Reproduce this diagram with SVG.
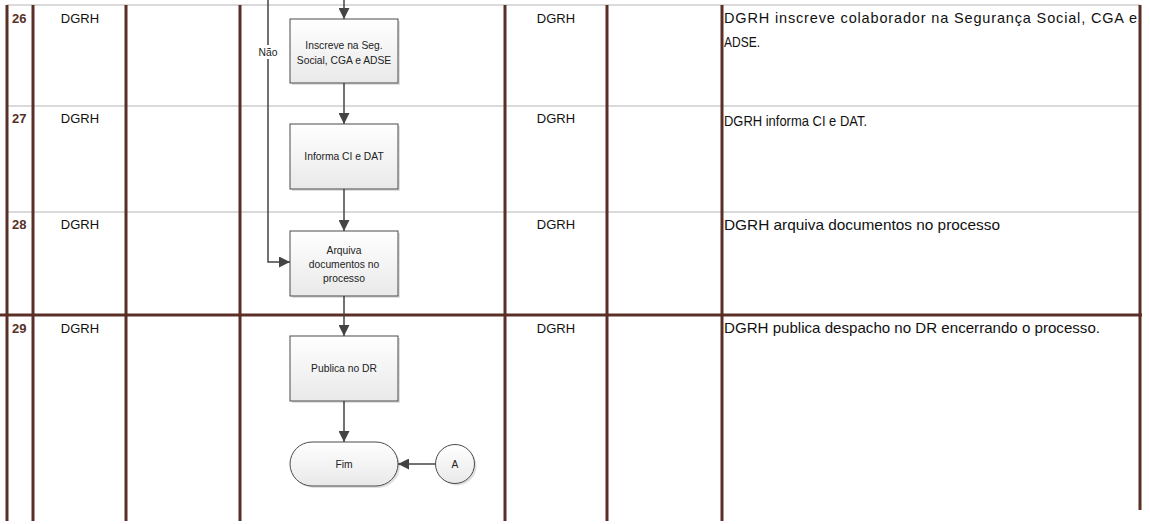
<svg xmlns="http://www.w3.org/2000/svg" width="1150" height="524" viewBox="0 0 1150 524">
  <style>
    .grid-light { stroke: #dadada; stroke-width: 2; }
    .grid-dark { stroke: #5a2f27; stroke-width: 3; }
    .num { font-family: "Liberation Sans", Arial, sans-serif; font-size: 13px; font-weight: bold; fill: #5a2f27; }
    .cell { font-family: "Liberation Sans", Arial, sans-serif; font-size: 13px; fill: #111; text-anchor: middle; }
    .desc { font-family: "Liberation Sans", Arial, sans-serif; font-size: 14.5px; fill: #111; }
    .box { fill: url(#boxFill); stroke: #4a4a4a; stroke-width: 1; }
    .shadow { fill: #000; opacity: 0.12; }
    .label { font-family: "Liberation Sans", Arial, sans-serif; font-size: 10.3px; fill: #222; text-anchor: middle; }
    .flow { fill: none; stroke: #444; stroke-width: 1.5; }
  </style>
  <defs>
    <linearGradient id="boxFill" x1="0" y1="0" x2="0" y2="1">
      <stop offset="0" stop-color="#ffffff"/>
      <stop offset="1" stop-color="#e9e9e9"/>
    </linearGradient>
    <marker id="arrow" markerUnits="userSpaceOnUse" markerWidth="11" markerHeight="11" refX="11" refY="5.5" orient="auto">
      <path d="M0,0 L11,5.5 L0,11 z" fill="#444"/>
    </marker>
  </defs>

  <rect width="1150" height="524" fill="#ffffff"/>

  <!-- table grid -->
  <g id="grid">
    <line class="grid-light" x1="7" y1="5" x2="1140" y2="5"/>
    <line class="grid-light" x1="7" y1="106" x2="1140" y2="106"/>
    <line class="grid-light" x1="7" y1="212" x2="1140" y2="212"/>
    <line class="grid-dark" x1="0" y1="315" x2="1142" y2="315"/>
    <line class="grid-dark" x1="7" y1="5" x2="7" y2="521"/>
    <line class="grid-dark" x1="33" y1="5" x2="33" y2="521"/>
    <line class="grid-dark" x1="126" y1="5" x2="126" y2="521"/>
    <line class="grid-dark" x1="240" y1="5" x2="240" y2="521"/>
    <line class="grid-dark" x1="505" y1="5" x2="505" y2="521"/>
    <line class="grid-dark" x1="607" y1="5" x2="607" y2="521"/>
    <line class="grid-dark" x1="722" y1="5" x2="722" y2="521"/>
    <line class="grid-dark" x1="1140" y1="5" x2="1140" y2="510"/>
  </g>

  <!-- row texts -->
  <g id="row-26">
    <text class="num" x="12" y="23">26</text>
    <text class="cell" x="80" y="23">DGRH</text>
    <text class="cell" x="556" y="23">DGRH</text>
    <text class="desc" x="724" y="23" textLength="413" lengthAdjust="spacing">DGRH inscreve colaborador na Segurança Social, CGA e</text>
    <text class="desc" x="724" y="47" textLength="36" lengthAdjust="spacingAndGlyphs">ADSE.</text>
  </g>
  <g id="row-27">
    <text class="num" x="12" y="123">27</text>
    <text class="cell" x="80" y="123">DGRH</text>
    <text class="cell" x="556" y="123">DGRH</text>
    <text class="desc" x="724" y="126" textLength="143" lengthAdjust="spacingAndGlyphs">DGRH informa CI e DAT.</text>
  </g>
  <g id="row-28">
    <text class="num" x="12" y="229">28</text>
    <text class="cell" x="80" y="229">DGRH</text>
    <text class="cell" x="556" y="229">DGRH</text>
    <text class="desc" x="724" y="230" textLength="276" lengthAdjust="spacingAndGlyphs">DGRH arquiva documentos no processo</text>
  </g>
  <g id="row-29">
    <text class="num" x="12" y="333">29</text>
    <text class="cell" x="80" y="333">DGRH</text>
    <text class="cell" x="556" y="333">DGRH</text>
    <text class="desc" x="724" y="333" textLength="376" lengthAdjust="spacingAndGlyphs">DGRH publica despacho no DR encerrando o processo.</text>
  </g>

  <!-- flow connectors -->
  <g id="connectors">
    <line class="flow" x1="344" y1="0" x2="344" y2="19" marker-end="url(#arrow)"/>
    <line class="flow" x1="344" y1="83" x2="344" y2="124" marker-end="url(#arrow)"/>
    <line class="flow" x1="344" y1="189" x2="344" y2="231" marker-end="url(#arrow)"/>
    <line class="flow" x1="344" y1="296" x2="344" y2="336" marker-end="url(#arrow)"/>
    <line class="flow" x1="344" y1="401" x2="344" y2="442" marker-end="url(#arrow)"/>
    <polyline class="flow" points="268,0 268,262 290,262" marker-end="url(#arrow)"/>
    <line class="flow" x1="435.5" y1="464" x2="398" y2="464" marker-end="url(#arrow)"/>
    <rect x="257" y="45" width="22" height="14" fill="#ffffff"/>
    <text class="label" x="268" y="56">Não</text>
  </g>

  <!-- process steps -->
  <g id="step-inscreve">
    <rect class="shadow" x="292" y="21" width="108" height="64"/>
    <rect class="box" x="290" y="19" width="108" height="64"/>
    <text class="label" x="344" y="49">Inscreve na Seg.</text>
    <text class="label" x="344" y="64">Social, CGA e ADSE</text>
  </g>
  <g id="step-informa">
    <rect class="shadow" x="292" y="126" width="108" height="65"/>
    <rect class="box" x="290" y="124" width="108" height="65"/>
    <text class="label" x="344" y="160">Informa CI e DAT</text>
  </g>
  <g id="step-arquiva">
    <rect class="shadow" x="292" y="233" width="108" height="65"/>
    <rect class="box" x="290" y="231" width="108" height="65"/>
    <text class="label" x="344" y="254">Arquiva</text>
    <text class="label" x="344" y="268">documentos no</text>
    <text class="label" x="344" y="282">processo</text>
  </g>
  <g id="step-publica">
    <rect class="shadow" x="292" y="338" width="108" height="65"/>
    <rect class="box" x="290" y="336" width="108" height="65"/>
    <text class="label" x="344" y="372">Publica no DR</text>
  </g>
  <g id="end-fim">
    <rect class="shadow" x="292" y="444" width="108" height="44" rx="22"/>
    <rect class="box" x="290" y="442" width="108" height="44" rx="22"/>
    <text class="label" x="344" y="468">Fim</text>
  </g>
  <g id="connector-a">
    <circle class="shadow" cx="457" cy="466" r="19.5"/>
    <circle class="box" cx="455" cy="464" r="19.5"/>
    <text class="label" x="455" y="468">A</text>
  </g>
</svg>
